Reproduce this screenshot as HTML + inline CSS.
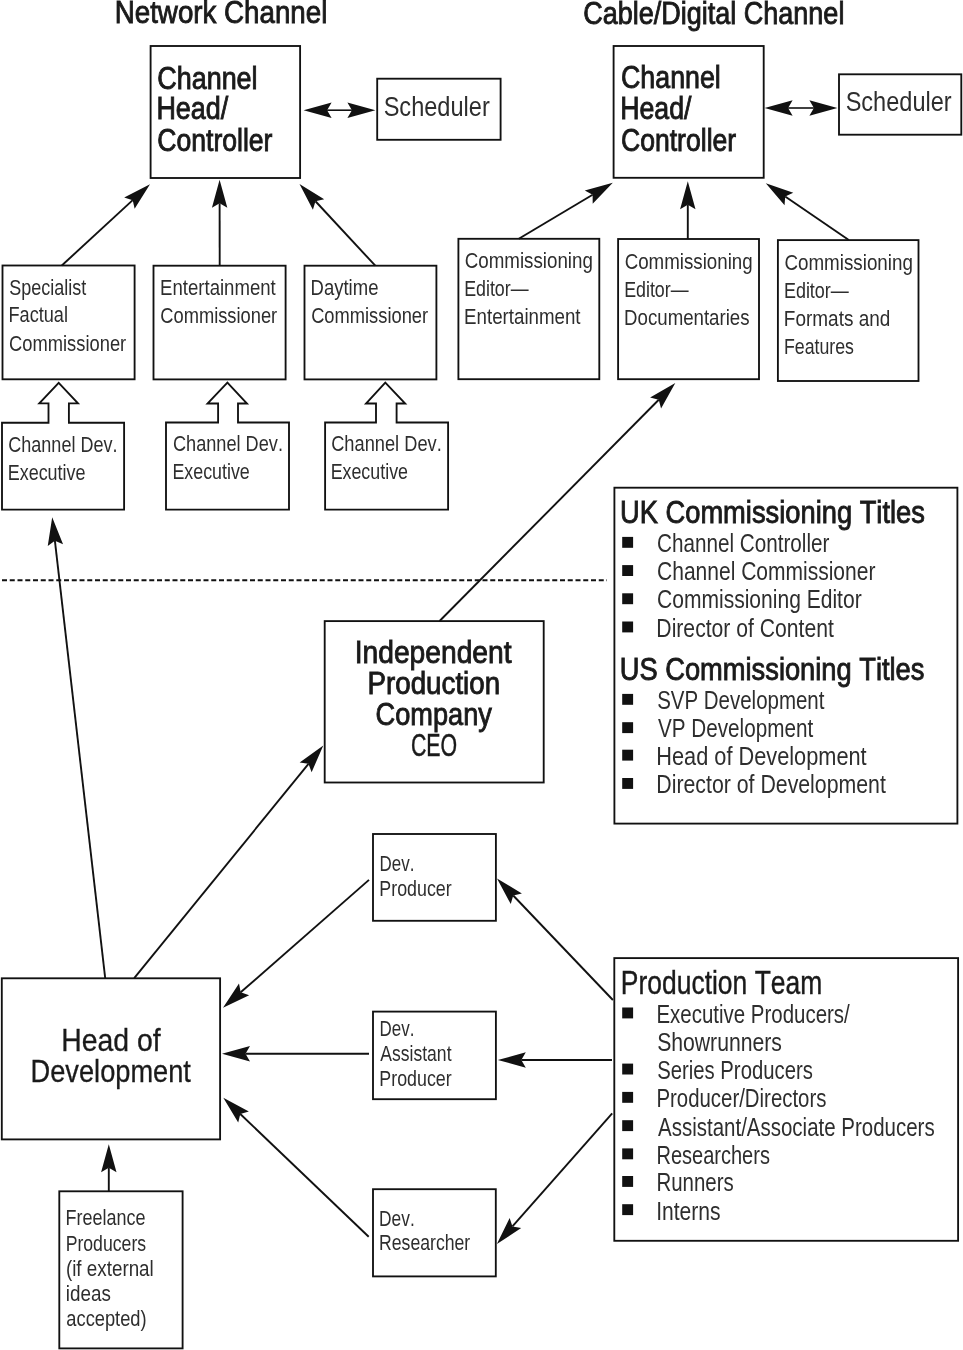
<!DOCTYPE html>
<html><head><meta charset="utf-8">
<style>
html,body{margin:0;padding:0;background:#fff;}
body{width:963px;height:1350px;overflow:hidden;}
svg{display:block;will-change:transform;}
text{font-family:"Liberation Sans",sans-serif;font-kerning:none;}
</style></head><body>
<svg width="963" height="1350" viewBox="0 0 963 1350">
<rect width="963" height="1350" fill="#fff"/>
<text x="114.73" y="23.20" font-size="31.5" textLength="212.63" lengthAdjust="spacingAndGlyphs" fill="#1a1a1a" stroke="#1a1a1a" stroke-width="0.9">Network Channel</text>
<text x="583.13" y="23.50" font-size="31.5" textLength="261.28" lengthAdjust="spacingAndGlyphs" fill="#1a1a1a" stroke="#1a1a1a" stroke-width="0.9">Cable/Digital Channel</text>
<rect x="150.60" y="46.00" width="149.50" height="132.00" fill="none" stroke="#111" stroke-width="1.85"/>
<text x="157.23" y="88.50" font-size="31" textLength="100.37" lengthAdjust="spacingAndGlyphs" fill="#1a1a1a" stroke="#1a1a1a" stroke-width="0.9">Channel</text>
<text x="156.39" y="119.40" font-size="31" textLength="71.91" lengthAdjust="spacingAndGlyphs" fill="#1a1a1a" stroke="#1a1a1a" stroke-width="0.9">Head/</text>
<text x="157.25" y="150.80" font-size="31" textLength="115.19" lengthAdjust="spacingAndGlyphs" fill="#1a1a1a" stroke="#1a1a1a" stroke-width="0.9">Controller</text>
<rect x="613.60" y="46.00" width="150.10" height="131.80" fill="none" stroke="#111" stroke-width="1.85"/>
<text x="621.04" y="88.30" font-size="31" textLength="99.75" lengthAdjust="spacingAndGlyphs" fill="#1a1a1a" stroke="#1a1a1a" stroke-width="0.9">Channel</text>
<text x="620.21" y="119.40" font-size="31" textLength="71.29" lengthAdjust="spacingAndGlyphs" fill="#1a1a1a" stroke="#1a1a1a" stroke-width="0.9">Head/</text>
<text x="621.05" y="150.60" font-size="31" textLength="115.09" lengthAdjust="spacingAndGlyphs" fill="#1a1a1a" stroke="#1a1a1a" stroke-width="0.9">Controller</text>
<rect x="377.20" y="78.70" width="123.40" height="61.10" fill="none" stroke="#111" stroke-width="1.85"/>
<text x="383.63" y="116.00" font-size="28.5" textLength="106.16" lengthAdjust="spacingAndGlyphs" fill="#2e2e2e">Scheduler</text>
<path d="M303.60,110.20 L331.60,102.50 L327.10,110.20 L331.60,117.90 Z" fill="#111" stroke="none"/>
<path d="M375.40,110.20 L347.40,117.90 L351.90,110.20 L347.40,102.50 Z" fill="#111" stroke="none"/>
<line x1="327.10" y1="110.20" x2="351.90" y2="110.20" stroke="#111" stroke-width="1.6"/>
<rect x="839.00" y="74.30" width="122.30" height="60.40" fill="none" stroke="#111" stroke-width="1.85"/>
<text x="845.63" y="111.30" font-size="28.5" textLength="106.06" lengthAdjust="spacingAndGlyphs" fill="#2e2e2e">Scheduler</text>
<path d="M764.60,108.00 L792.60,100.30 L788.10,108.00 L792.60,115.70 Z" fill="#111" stroke="none"/>
<path d="M837.40,108.00 L809.40,115.70 L813.90,108.00 L809.40,100.30 Z" fill="#111" stroke="none"/>
<line x1="788.10" y1="108.00" x2="813.90" y2="108.00" stroke="#111" stroke-width="1.6"/>
<rect x="2.50" y="265.50" width="132.10" height="113.80" fill="none" stroke="#111" stroke-width="1.85"/>
<text x="9.18" y="294.70" font-size="22" textLength="76.95" lengthAdjust="spacingAndGlyphs" fill="#2e2e2e">Specialist</text>
<text x="8.51" y="322.30" font-size="22" textLength="59.50" lengthAdjust="spacingAndGlyphs" fill="#2e2e2e">Factual</text>
<text x="9.07" y="351.00" font-size="22" textLength="117.14" lengthAdjust="spacingAndGlyphs" fill="#2e2e2e">Commissioner</text>
<rect x="153.50" y="265.70" width="132.10" height="113.70" fill="none" stroke="#111" stroke-width="1.85"/>
<text x="160.08" y="294.60" font-size="22" textLength="115.66" lengthAdjust="spacingAndGlyphs" fill="#2e2e2e">Entertainment</text>
<text x="160.27" y="322.90" font-size="22" textLength="116.93" lengthAdjust="spacingAndGlyphs" fill="#2e2e2e">Commissioner</text>
<rect x="304.50" y="265.70" width="131.90" height="113.70" fill="none" stroke="#111" stroke-width="1.85"/>
<text x="310.58" y="294.60" font-size="22" textLength="67.84" lengthAdjust="spacingAndGlyphs" fill="#2e2e2e">Daytime</text>
<text x="311.17" y="322.90" font-size="22" textLength="116.93" lengthAdjust="spacingAndGlyphs" fill="#2e2e2e">Commissioner</text>
<path d="M150.00,184.20 L134.63,208.84 L132.72,200.13 L124.19,197.52 Z" fill="#111" stroke="none"/>
<line x1="61.80" y1="265.50" x2="132.72" y2="200.13" stroke="#111" stroke-width="1.9"/>
<path d="M219.60,179.70 L227.33,207.69 L219.63,203.20 L211.93,207.71 Z" fill="#111" stroke="none"/>
<line x1="219.70" y1="265.50" x2="219.63" y2="203.20" stroke="#111" stroke-width="1.9"/>
<path d="M299.50,184.00 L324.19,199.29 L315.48,201.23 L312.90,209.76 Z" fill="#111" stroke="none"/>
<line x1="375.30" y1="265.70" x2="315.48" y2="201.23" stroke="#111" stroke-width="1.9"/>
<rect x="458.40" y="238.80" width="140.90" height="140.40" fill="none" stroke="#111" stroke-width="1.85"/>
<text x="464.65" y="267.70" font-size="22" textLength="128.26" lengthAdjust="spacingAndGlyphs" fill="#2e2e2e">Commissioning</text>
<text x="464.14" y="296.40" font-size="22" textLength="64.46" lengthAdjust="spacingAndGlyphs" fill="#2e2e2e">Editor—</text>
<text x="464.07" y="324.40" font-size="22" textLength="116.47" lengthAdjust="spacingAndGlyphs" fill="#2e2e2e">Entertainment</text>
<rect x="618.10" y="239.00" width="140.90" height="140.20" fill="none" stroke="#111" stroke-width="1.85"/>
<text x="624.65" y="268.80" font-size="22" textLength="128.06" lengthAdjust="spacingAndGlyphs" fill="#2e2e2e">Commissioning</text>
<text x="624.14" y="297.00" font-size="22" textLength="64.46" lengthAdjust="spacingAndGlyphs" fill="#2e2e2e">Editor—</text>
<text x="624.07" y="324.50" font-size="22" textLength="125.51" lengthAdjust="spacingAndGlyphs" fill="#2e2e2e">Documentaries</text>
<rect x="777.90" y="240.10" width="140.60" height="140.90" fill="none" stroke="#111" stroke-width="1.85"/>
<text x="784.45" y="270.00" font-size="22" textLength="128.47" lengthAdjust="spacingAndGlyphs" fill="#2e2e2e">Commissioning</text>
<text x="783.93" y="298.00" font-size="22" textLength="64.87" lengthAdjust="spacingAndGlyphs" fill="#2e2e2e">Editor—</text>
<text x="783.84" y="326.40" font-size="22" textLength="106.48" lengthAdjust="spacingAndGlyphs" fill="#2e2e2e">Formats and</text>
<text x="783.94" y="354.00" font-size="22" textLength="70.00" lengthAdjust="spacingAndGlyphs" fill="#2e2e2e">Features</text>
<path d="M612.80,182.70 L592.70,203.66 L592.62,194.74 L584.81,190.44 Z" fill="#111" stroke="none"/>
<line x1="518.80" y1="238.80" x2="592.62" y2="194.74" stroke="#111" stroke-width="1.9"/>
<path d="M687.80,181.30 L695.50,209.30 L687.80,204.80 L680.10,209.30 Z" fill="#111" stroke="none"/>
<line x1="687.80" y1="239.00" x2="687.80" y2="204.80" stroke="#111" stroke-width="1.9"/>
<path d="M765.80,183.20 L793.26,192.66 L785.19,196.47 L784.56,205.37 Z" fill="#111" stroke="none"/>
<line x1="848.80" y1="240.00" x2="785.19" y2="196.47" stroke="#111" stroke-width="1.9"/>
<polygon points="2.00,422.70 48.50,422.70 48.50,403.30 39.30,403.30 58.70,382.80 78.00,403.30 68.90,403.30 68.90,422.70 124.10,422.70 124.10,509.60 2.00,509.60" fill="none" stroke="#111" stroke-width="1.85" stroke-linejoin="miter"/>
<text x="8.28" y="451.70" font-size="22" textLength="109.26" lengthAdjust="spacingAndGlyphs" fill="#2e2e2e">Channel Dev.</text>
<text x="7.73" y="479.70" font-size="22" textLength="77.77" lengthAdjust="spacingAndGlyphs" fill="#2e2e2e">Executive</text>
<polygon points="166.00,422.50 218.10,422.50 218.10,403.50 207.50,403.50 227.40,382.60 247.00,403.50 238.00,403.50 238.00,422.50 289.00,422.50 289.00,509.60 166.00,509.60" fill="none" stroke="#111" stroke-width="1.85" stroke-linejoin="miter"/>
<text x="172.98" y="451.40" font-size="22" textLength="109.98" lengthAdjust="spacingAndGlyphs" fill="#2e2e2e">Channel Dev.</text>
<text x="172.44" y="479.30" font-size="22" textLength="77.36" lengthAdjust="spacingAndGlyphs" fill="#2e2e2e">Executive</text>
<polygon points="325.10,422.50 376.00,422.50 376.00,403.50 366.00,403.50 385.30,382.60 405.20,403.50 396.60,403.50 396.60,422.50 448.10,422.50 448.10,509.60 325.10,509.60" fill="none" stroke="#111" stroke-width="1.85" stroke-linejoin="miter"/>
<text x="331.17" y="451.40" font-size="22" textLength="110.59" lengthAdjust="spacingAndGlyphs" fill="#2e2e2e">Channel Dev.</text>
<text x="330.64" y="479.30" font-size="22" textLength="77.36" lengthAdjust="spacingAndGlyphs" fill="#2e2e2e">Executive</text>
<line x1="2" y1="580.3" x2="607" y2="580.3" stroke="#111" stroke-width="2" stroke-dasharray="5 2.75"/>
<rect x="614.40" y="487.70" width="343.00" height="335.90" fill="none" stroke="#111" stroke-width="1.85"/>
<text x="619.99" y="523.00" font-size="32" textLength="304.89" lengthAdjust="spacingAndGlyphs" fill="#1a1a1a" stroke="#1a1a1a" stroke-width="0.9">UK Commissioning Titles</text>
<rect x="622.20" y="536.90" width="10.90" height="10.90" fill="#111"/>
<text x="657.05" y="552.00" font-size="25" textLength="172.39" lengthAdjust="spacingAndGlyphs" fill="#2e2e2e">Channel Controller</text>
<rect x="622.20" y="565.10" width="10.90" height="10.90" fill="#111"/>
<text x="657.03" y="580.20" font-size="25" textLength="218.42" lengthAdjust="spacingAndGlyphs" fill="#2e2e2e">Channel Commissioner</text>
<rect x="622.20" y="593.30" width="10.90" height="10.90" fill="#111"/>
<text x="657.03" y="608.40" font-size="25" textLength="204.62" lengthAdjust="spacingAndGlyphs" fill="#2e2e2e">Commissioning Editor</text>
<rect x="622.20" y="621.50" width="10.90" height="10.90" fill="#111"/>
<text x="656.37" y="636.60" font-size="25" textLength="177.49" lengthAdjust="spacingAndGlyphs" fill="#2e2e2e">Director of Content</text>
<text x="619.80" y="679.60" font-size="32" textLength="304.59" lengthAdjust="spacingAndGlyphs" fill="#1a1a1a" stroke="#1a1a1a" stroke-width="0.9">US Commissioning Titles</text>
<rect x="622.20" y="693.90" width="10.90" height="10.90" fill="#111"/>
<text x="657.17" y="709.00" font-size="25" textLength="167.28" lengthAdjust="spacingAndGlyphs" fill="#2e2e2e">SVP Development</text>
<rect x="622.20" y="722.20" width="10.90" height="10.90" fill="#111"/>
<text x="658.01" y="737.30" font-size="25" textLength="155.14" lengthAdjust="spacingAndGlyphs" fill="#2e2e2e">VP Development</text>
<rect x="622.20" y="749.70" width="10.90" height="10.90" fill="#111"/>
<text x="656.32" y="764.80" font-size="25" textLength="210.34" lengthAdjust="spacingAndGlyphs" fill="#2e2e2e">Head of Development</text>
<rect x="622.20" y="778.00" width="10.90" height="10.90" fill="#111"/>
<text x="656.35" y="793.10" font-size="25" textLength="229.50" lengthAdjust="spacingAndGlyphs" fill="#2e2e2e">Director of Development</text>
<rect x="324.70" y="621.10" width="219.00" height="161.40" fill="none" stroke="#111" stroke-width="1.85"/>
<text x="354.70" y="662.70" font-size="32" textLength="156.91" lengthAdjust="spacingAndGlyphs" fill="#1a1a1a" stroke="#1a1a1a" stroke-width="0.9">Independent</text>
<text x="367.53" y="694.00" font-size="32" textLength="132.58" lengthAdjust="spacingAndGlyphs" fill="#1a1a1a" stroke="#1a1a1a" stroke-width="0.9">Production</text>
<text x="375.62" y="725.20" font-size="32" textLength="116.33" lengthAdjust="spacingAndGlyphs" fill="#1a1a1a" stroke="#1a1a1a" stroke-width="0.9">Company</text>
<text x="410.92" y="756.00" font-size="32" textLength="46.20" lengthAdjust="spacingAndGlyphs" fill="#1a1a1a" stroke="#1a1a1a" stroke-width="0.5">CEO</text>
<path d="M675.30,383.10 L661.06,408.41 L658.76,399.79 L650.12,397.57 Z" fill="#111" stroke="none"/>
<line x1="439.60" y1="621.00" x2="658.76" y2="399.79" stroke="#111" stroke-width="1.9"/>
<path d="M52.20,517.30 L63.05,544.24 L54.88,540.65 L47.75,546.00 Z" fill="#111" stroke="none"/>
<line x1="105.20" y1="978.20" x2="54.88" y2="540.65" stroke="#111" stroke-width="1.9"/>
<path d="M323.30,745.60 L311.61,772.18 L308.48,763.83 L299.66,762.47 Z" fill="#111" stroke="none"/>
<line x1="134.20" y1="978.20" x2="308.48" y2="763.83" stroke="#111" stroke-width="1.9"/>
<rect x="373.00" y="834.00" width="122.90" height="86.80" fill="none" stroke="#111" stroke-width="1.85"/>
<text x="379.41" y="870.70" font-size="21.5" textLength="34.95" lengthAdjust="spacingAndGlyphs" fill="#2e2e2e">Dev.</text>
<text x="379.34" y="895.60" font-size="21.5" textLength="72.36" lengthAdjust="spacingAndGlyphs" fill="#2e2e2e">Producer</text>
<rect x="373.00" y="1011.60" width="122.90" height="87.60" fill="none" stroke="#111" stroke-width="1.85"/>
<text x="379.41" y="1035.70" font-size="21.5" textLength="34.95" lengthAdjust="spacingAndGlyphs" fill="#2e2e2e">Dev.</text>
<text x="380.27" y="1061.00" font-size="21.5" textLength="71.26" lengthAdjust="spacingAndGlyphs" fill="#2e2e2e">Assistant</text>
<text x="379.34" y="1085.90" font-size="21.5" textLength="72.36" lengthAdjust="spacingAndGlyphs" fill="#2e2e2e">Producer</text>
<rect x="373.00" y="1189.20" width="122.80" height="87.20" fill="none" stroke="#111" stroke-width="1.85"/>
<text x="379.08" y="1225.90" font-size="21.5" textLength="35.71" lengthAdjust="spacingAndGlyphs" fill="#2e2e2e">Dev.</text>
<text x="379.05" y="1250.20" font-size="21.5" textLength="91.14" lengthAdjust="spacingAndGlyphs" fill="#2e2e2e">Researcher</text>
<path d="M223.00,1007.80 L238.99,983.56 L240.68,992.31 L249.14,995.14 Z" fill="#111" stroke="none"/>
<line x1="369.00" y1="879.90" x2="240.68" y2="992.31" stroke="#111" stroke-width="1.9"/>
<path d="M222.00,1053.70 L250.00,1046.00 L245.50,1053.70 L250.00,1061.40 Z" fill="#111" stroke="none"/>
<line x1="369.00" y1="1053.70" x2="245.50" y2="1053.70" stroke="#111" stroke-width="1.9"/>
<path d="M223.30,1097.70 L248.86,1111.49 L240.28,1113.95 L238.21,1122.62 Z" fill="#111" stroke="none"/>
<line x1="368.70" y1="1236.80" x2="240.28" y2="1113.95" stroke="#111" stroke-width="1.9"/>
<path d="M497.00,878.50 L521.90,893.45 L513.22,895.50 L510.75,904.08 Z" fill="#111" stroke="none"/>
<line x1="612.90" y1="1000.00" x2="513.22" y2="895.50" stroke="#111" stroke-width="1.9"/>
<path d="M497.80,1060.00 L525.80,1052.30 L521.30,1060.00 L525.80,1067.70 Z" fill="#111" stroke="none"/>
<line x1="612.00" y1="1060.00" x2="521.30" y2="1060.00" stroke="#111" stroke-width="1.9"/>
<path d="M496.90,1244.00 L509.65,1217.91 L512.45,1226.38 L521.20,1228.10 Z" fill="#111" stroke="none"/>
<line x1="612.20" y1="1113.30" x2="512.45" y2="1226.38" stroke="#111" stroke-width="1.9"/>
<rect x="1.80" y="978.30" width="218.30" height="161.10" fill="none" stroke="#111" stroke-width="1.85"/>
<text x="61.27" y="1051.30" font-size="30.5" textLength="99.39" lengthAdjust="spacingAndGlyphs" fill="#1a1a1a" stroke="#1a1a1a" stroke-width="0.3">Head of</text>
<text x="30.57" y="1082.00" font-size="30.5" textLength="160.33" lengthAdjust="spacingAndGlyphs" fill="#1a1a1a" stroke="#1a1a1a" stroke-width="0.3">Development</text>
<rect x="59.30" y="1191.30" width="123.30" height="157.10" fill="none" stroke="#111" stroke-width="1.85"/>
<text x="65.62" y="1225.10" font-size="21.5" textLength="79.97" lengthAdjust="spacingAndGlyphs" fill="#2e2e2e">Freelance</text>
<text x="65.65" y="1250.60" font-size="21.5" textLength="80.49" lengthAdjust="spacingAndGlyphs" fill="#2e2e2e">Producers</text>
<text x="65.93" y="1275.60" font-size="21.5" textLength="87.83" lengthAdjust="spacingAndGlyphs" fill="#2e2e2e">(if external</text>
<text x="65.84" y="1301.00" font-size="21.5" textLength="45.04" lengthAdjust="spacingAndGlyphs" fill="#2e2e2e">ideas</text>
<text x="66.32" y="1325.80" font-size="21.5" textLength="80.31" lengthAdjust="spacingAndGlyphs" fill="#2e2e2e">accepted)</text>
<path d="M108.80,1144.30 L116.50,1172.30 L108.80,1167.80 L101.10,1172.30 Z" fill="#111" stroke="none"/>
<line x1="108.80" y1="1191.30" x2="108.80" y2="1167.80" stroke="#111" stroke-width="1.9"/>
<rect x="614.30" y="958.10" width="343.80" height="282.70" fill="none" stroke="#111" stroke-width="1.85"/>
<text x="620.83" y="993.90" font-size="32.5" textLength="201.41" lengthAdjust="spacingAndGlyphs" fill="#1a1a1a" stroke="#1a1a1a" stroke-width="0.4">Production Team</text>
<rect x="622.20" y="1007.50" width="10.90" height="10.90" fill="#111"/>
<text x="656.42" y="1022.90" font-size="25" textLength="193.38" lengthAdjust="spacingAndGlyphs" fill="#2e2e2e">Executive Producers/</text>
<text x="657.14" y="1050.70" font-size="25" textLength="124.83" lengthAdjust="spacingAndGlyphs" fill="#2e2e2e">Showrunners</text>
<rect x="622.20" y="1063.60" width="10.90" height="10.90" fill="#111"/>
<text x="657.18" y="1079.00" font-size="25" textLength="155.65" lengthAdjust="spacingAndGlyphs" fill="#2e2e2e">Series Producers</text>
<rect x="622.20" y="1091.90" width="10.90" height="10.90" fill="#111"/>
<text x="656.43" y="1107.30" font-size="25" textLength="170.01" lengthAdjust="spacingAndGlyphs" fill="#2e2e2e">Producer/Directors</text>
<rect x="622.20" y="1120.20" width="10.90" height="10.90" fill="#111"/>
<text x="658.06" y="1135.60" font-size="25" textLength="276.58" lengthAdjust="spacingAndGlyphs" fill="#2e2e2e">Assistant/Associate Producers</text>
<rect x="622.20" y="1148.40" width="10.90" height="10.90" fill="#111"/>
<text x="656.46" y="1163.80" font-size="25" textLength="113.47" lengthAdjust="spacingAndGlyphs" fill="#2e2e2e">Researchers</text>
<rect x="622.20" y="1176.00" width="10.90" height="10.90" fill="#111"/>
<text x="656.42" y="1191.40" font-size="25" textLength="77.32" lengthAdjust="spacingAndGlyphs" fill="#2e2e2e">Runners</text>
<rect x="622.20" y="1204.20" width="10.90" height="10.90" fill="#111"/>
<text x="656.16" y="1219.60" font-size="25" textLength="64.41" lengthAdjust="spacingAndGlyphs" fill="#2e2e2e">Interns</text>
</svg>
</body></html>
